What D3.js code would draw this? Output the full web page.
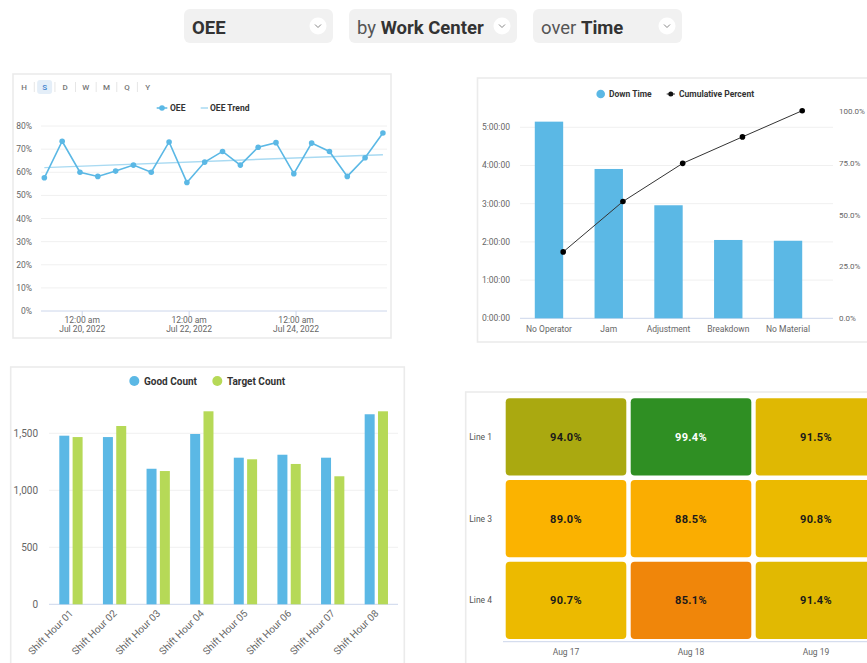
<!DOCTYPE html>
<html>
<head>
<meta charset="utf-8">
<script src="https://cdn.jsdelivr.net/npm/d3@7/dist/d3.min.js"></script>
<style>
  html, body { margin: 0; padding: 0; background: #ffffff; }
  svg { display: block; font-family: Roboto, "Noto Sans", sans-serif; }
</style>
</head>
<body>
<svg id="dash" width="867" height="663"></svg>
<script>
// ---- Selector bar ----
const selectorPrefixes = ["", "by ", "over "];
const selectorValues = ["OEE", "Work Center", "Time"];

// ---- OEE over time ----
const periodButtons = ["H", "S", "D", "W", "M", "Q", "Y"];
const activePeriod = "S";
const oeeTimes = [
  "2022-07-19T07:00", "2022-07-19T15:00", "2022-07-19T23:00",
  "2022-07-20T07:00", "2022-07-20T15:00", "2022-07-20T23:00",
  "2022-07-21T07:00", "2022-07-21T15:00", "2022-07-21T23:00",
  "2022-07-22T07:00", "2022-07-22T15:00", "2022-07-22T23:00",
  "2022-07-23T07:00", "2022-07-23T15:00", "2022-07-23T23:00",
  "2022-07-24T07:00", "2022-07-24T15:00", "2022-07-24T23:00",
  "2022-07-25T07:00", "2022-07-25T15:00"
];
const oeeValues = [57.6, 73.4, 60.0, 58.2, 60.5, 63.1, 60.0, 73.1, 55.6, 64.4,
                   69.0, 63.1, 70.8, 72.8, 59.4, 72.6, 69.0, 58.2, 66.3, 77.0];
const oeeTrendEnds = [62.0, 67.6];
const oeeDomain = ["2022-07-19T05:30", "2022-07-25T16:50"];
const oeeTickDates = ["2022-07-20T00:00", "2022-07-22T00:00", "2022-07-24T00:00"];
const oeeYTicks = [0, 10, 20, 30, 40, 50, 60, 70, 80];

// ---- Down time pareto ----
const downCauses = ["No Operator", "Jam", "Adjustment", "Breakdown", "No Material"];
const downTimeMinutes = [308.8, 234.5, 177.5, 123.0, 121.8];
const downTicksMinutes = [0, 60, 120, 180, 240, 300];
const cumulativeTicks = [0, 25, 50, 75, 100];

// ---- Good vs target count ----
const shiftHours = ["Shift Hour 01", "Shift Hour 02", "Shift Hour 03", "Shift Hour 04",
                    "Shift Hour 05", "Shift Hour 06", "Shift Hour 07", "Shift Hour 08"];
const goodCount = [1479, 1467, 1189, 1494, 1286, 1312, 1286, 1667];
const targetCount = [1467, 1564, 1169, 1693, 1272, 1231, 1123, 1693];
const countTicks = [0, 500, 1000, 1500];

// ---- OEE heatmap by line and day ----
const lineNames = ["Line 1", "Line 3", "Line 4"];
const dayNames = ["Aug 17", "Aug 18", "Aug 19"];
const oeeLine1 = [94.0, 99.4, 91.5];
const oeeLine3 = [89.0, 88.5, 90.8];
const oeeLine4 = [90.7, 85.1, 91.4];

const BLUE = "#5bb8e5";
const GREEN = "#b6d957";
const AXIS = "#ccd6eb";
const GRID = "#f0f0f0";
const LABEL = "#666666";

const svg = d3.select("#dash");

// ================= selector bar =================
const selBoxes = [[184, 149], [349, 168], [533, 149]];
selBoxes.forEach(([x, w], i) => {
  const g = svg.append("g").attr("transform", `translate(${x},9)`);
  g.append("rect").attr("width", w).attr("height", 34).attr("rx", 6).attr("fill", "#f1f1f1");
  const t = g.append("text").attr("x", 8).attr("y", 25).attr("font-size", 18.5);
  if (selectorPrefixes[i]) t.append("tspan").attr("fill", "#555").attr("font-weight", 400).text(selectorPrefixes[i]);
  t.append("tspan").attr("fill", "#333").attr("font-weight", 700).text(selectorValues[i]);
  const cx = w - 15;
  g.append("circle").attr("cx", cx).attr("cy", 17).attr("r", 8.5).attr("fill", "#ffffff");
  g.append("path").attr("d", `M${cx - 3},${15.5} L${cx},${18.5} L${cx + 3},${15.5}`)
    .attr("fill", "none").attr("stroke", "#888").attr("stroke-width", 1);
});

// ================= panels =================
const panels = [[13, 74, 378, 264], [477.5, 78, 400, 264], [10.7, 367, 393.6, 310], [465.7, 392, 410, 300]];
panels.forEach(([x, y, w, h]) => {
  svg.append("rect").attr("x", x).attr("y", y).attr("width", w).attr("height", h)
    .attr("fill", "#fff").attr("stroke", "#ebebeb").attr("stroke-width", 1.6);
});

// ================= OEE over time =================
{
  const g = svg.append("g");
  // period buttons
  const btnX = d3.scalePoint().domain(periodButtons).range([24, 147.7]);
  periodButtons.forEach((p, i) => {
    const x = btnX(p);
    if (p === activePeriod) {
      g.append("rect").attr("x", x - 7.5).attr("y", 80).attr("width", 15).attr("height", 14)
        .attr("rx", 3).attr("fill", "#e4eef8");
    }
    g.append("text").attr("x", x).attr("y", 90).attr("text-anchor", "middle")
      .attr("font-size", 8).attr("font-weight", 500)
      .attr("fill", p === activePeriod ? "#3b7fcf" : "#777").text(p);
    if (i < periodButtons.length - 1) {
      const sx = (x + btnX(periodButtons[i + 1])) / 2;
      g.append("line").attr("x1", sx).attr("x2", sx).attr("y1", 82).attr("y2", 92)
        .attr("stroke", "#e6e6e6").attr("stroke-width", 1);
    }
  });

  // legend
  g.append("line").attr("x1", 156.7).attr("x2", 167.3).attr("y1", 108).attr("y2", 108)
    .attr("stroke", BLUE).attr("stroke-width", 1.5);
  g.append("circle").attr("cx", 162).attr("cy", 108).attr("r", 2.8).attr("fill", BLUE);
  g.append("text").attr("x", 170).attr("y", 111).attr("font-size", 8.5).attr("font-weight", 700)
    .attr("fill", "#333").text("OEE");
  g.append("line").attr("x1", 200.7).attr("x2", 208).attr("y1", 108).attr("y2", 108)
    .attr("stroke", "#a9daf2").attr("stroke-width", 1.5);
  g.append("text").attr("x", 210).attr("y", 111).attr("font-size", 8.5).attr("font-weight", 700)
    .attr("fill", "#333").text("OEE Trend");

  const parse = d3.timeParse("%Y-%m-%dT%H:%M");
  const x = d3.scaleTime().domain(oeeDomain.map(parse)).range([41, 387]);
  const y = d3.scaleLinear().domain([0, 80]).range([311, 126]);

  // grid + y labels
  oeeYTicks.forEach(t => {
    g.append("line").attr("x1", 41).attr("x2", 387).attr("y1", y(t)).attr("y2", y(t))
      .attr("stroke", t === 0 ? AXIS : GRID).attr("stroke-width", 1);
    g.append("text").attr("x", 32).attr("y", y(t) + 3).attr("text-anchor", "end")
      .attr("font-size", 8.5).attr("fill", LABEL).text(t + "%");
  });
  // x ticks
  const fTime = d3.timeFormat("%-I:%M %p");
  const fDate = d3.timeFormat("%b %-d, %Y");
  oeeTickDates.map(parse).forEach(d => {
    const xx = x(d);
    g.append("line").attr("x1", xx).attr("x2", xx).attr("y1", 311).attr("y2", 316)
      .attr("stroke", AXIS);
    g.append("text").attr("x", xx).attr("y", 322.5).attr("text-anchor", "middle")
      .attr("font-size", 8.5).attr("fill", LABEL).text(fTime(d).toLowerCase());
    g.append("text").attr("x", xx).attr("y", 331.5).attr("text-anchor", "middle")
      .attr("font-size", 8.5).attr("fill", LABEL).text(fDate(d));
  });

  const times = oeeTimes.map(parse);
  // trend
  g.append("line")
    .attr("x1", x(times[0])).attr("x2", x(times[times.length - 1]))
    .attr("y1", y(oeeTrendEnds[0])).attr("y2", y(oeeTrendEnds[1]))
    .attr("stroke", "#a9daf2").attr("stroke-width", 1.5);
  // series
  const line = d3.line().x((d, i) => x(times[i])).y(d => y(d));
  g.append("path").datum(oeeValues).attr("d", line).attr("fill", "none")
    .attr("stroke", BLUE).attr("stroke-width", 1.6);
  g.selectAll(".oeept").data(oeeValues).join("circle")
    .attr("cx", (d, i) => x(times[i])).attr("cy", d => y(d)).attr("r", 2.8).attr("fill", BLUE);
}

// ================= Down time pareto =================
{
  const g = svg.append("g");
  // legend
  g.append("circle").attr("cx", 600.7).attr("cy", 94).attr("r", 4.3).attr("fill", BLUE);
  g.append("text").attr("x", 609).attr("y", 97).attr("font-size", 8.5).attr("font-weight", 700)
    .attr("fill", "#333").text("Down Time");
  g.append("line").attr("x1", 666.7).attr("x2", 675).attr("y1", 94).attr("y2", 94)
    .attr("stroke", "#333").attr("stroke-width", 1);
  g.append("circle").attr("cx", 670.8).attr("cy", 94).attr("r", 2.5).attr("fill", "#111");
  g.append("text").attr("x", 679).attr("y", 97).attr("font-size", 8.5).attr("font-weight", 700)
    .attr("fill", "#333").text("Cumulative Percent");

  const yL = d3.scaleLinear().domain([0, 326]).range([318.3, 110.7]);
  const yR = d3.scaleLinear().domain([0, 100]).range([318.3, 110.7]);
  const x = d3.scaleBand().domain(downCauses).range([519.1, 817.9])
    .paddingInner(0.525).paddingOuter(0.2625);

  const fmtDur = m => {
    const s = Math.round(m * 60);
    return `${Math.floor(s / 3600)}:${String(Math.floor(s % 3600 / 60)).padStart(2, "0")}:${String(s % 60).padStart(2, "0")}`;
  };
  downTicksMinutes.forEach(t => {
    g.append("line").attr("x1", 520).attr("x2", 833).attr("y1", yL(t)).attr("y2", yL(t))
      .attr("stroke", t === 0 ? AXIS : GRID);
    g.append("text").attr("x", 510).attr("y", yL(t) + 3).attr("text-anchor", "end")
      .attr("font-size", 8.5).attr("fill", LABEL).text(fmtDur(t));
  });
  cumulativeTicks.forEach(t => {
    g.append("text").attr("x", 839).attr("y", yR(t) + 3).attr("text-anchor", "start")
      .attr("font-size", 8).attr("fill", LABEL).text(t.toFixed(1) + "%");
  });

  g.selectAll(".dbar").data(downTimeMinutes).join("rect")
    .attr("x", (d, i) => x(downCauses[i])).attr("width", x.bandwidth())
    .attr("y", d => yL(d)).attr("height", d => yL(0) - yL(d)).attr("fill", BLUE);

  downCauses.forEach(c => {
    g.append("text").attr("x", x(c) + x.bandwidth() / 2).attr("y", 331.5)
      .attr("text-anchor", "middle").attr("font-size", 8.5).attr("fill", LABEL).text(c);
  });

  const total = d3.sum(downTimeMinutes);
  const cum = d3.cumsum(downTimeMinutes).map(v => v / total * 100);
  const lx = i => x(downCauses[i]) + x.bandwidth();
  g.append("path").datum(cum)
    .attr("d", d3.line().x((d, i) => lx(i)).y(d => yR(d)))
    .attr("fill", "none").attr("stroke", "#333").attr("stroke-width", 1);
  g.selectAll(".cpt").data(cum).join("circle")
    .attr("cx", (d, i) => lx(i)).attr("cy", d => yR(d)).attr("r", 2.8).attr("fill", "#000");
}

// ================= Good vs Target count =================
{
  const g = svg.append("g");
  g.append("circle").attr("cx", 134.3).attr("cy", 381).attr("r", 5).attr("fill", BLUE);
  g.append("text").attr("x", 144).attr("y", 384.6).attr("font-size", 10).attr("font-weight", 700)
    .attr("fill", "#333").text("Good Count");
  g.append("circle").attr("cx", 217.3).attr("cy", 381).attr("r", 5).attr("fill", GREEN);
  g.append("text").attr("x", 227).attr("y", 384.6).attr("font-size", 10).attr("font-weight", 700)
    .attr("fill", "#333").text("Target Count");

  const y = d3.scaleLinear().domain([0, 1800]).range([604.3, 399.1]);
  const x0 = d3.scaleBand().domain(shiftHours).range([49, 398]);
  const keys = ["good", "target"];
  const x1 = d3.scaleBand().domain(keys).range([10.3, 33.6]).paddingInner(0.25);
  const colors = { good: BLUE, target: GREEN };
  const series = { good: goodCount, target: targetCount };

  countTicks.forEach(t => {
    g.append("line").attr("x1", 49).attr("x2", 398).attr("y1", y(t)).attr("y2", y(t))
      .attr("stroke", t === 0 ? AXIS : GRID);
    g.append("text").attr("x", 38).attr("y", y(t) + 3.5).attr("text-anchor", "end")
      .attr("font-size", 10).attr("fill", LABEL).text(d3.format(",")(t));
  });

  keys.forEach(k => {
    g.selectAll(".b" + k).data(series[k]).join("rect")
      .attr("x", (d, i) => x0(shiftHours[i]) + x1(k)).attr("width", x1.bandwidth())
      .attr("y", d => y(d)).attr("height", d => y(0) - y(d)).attr("fill", colors[k]);
  });

  shiftHours.forEach(s => {
    const cx = x0(s) + x0.bandwidth() / 2 + 3;
    g.append("text").attr("transform", `translate(${cx},614) rotate(-45)`)
      .attr("text-anchor", "end").attr("font-size", 10).attr("fill", LABEL).text(s);
  });
}

// ================= OEE heatmap =================
{
  const g = svg.append("g");
  const rows = [oeeLine1, oeeLine3, oeeLine4];
  const x = d3.scaleBand().domain(dayNames).range([503.5, 878.5]);
  const y = d3.scaleBand().domain(lineNames).range([396.1, 641.2]);
  const color = d3.scaleLinear()
    .domain([85, 89, 91, 94, 99.4])
    .range(["#f0850a", "#fbb300", "#e9bb00", "#aaa910", "#2f8f23"])
    .clamp(true);
  const inset = 2.2;

  rows.forEach((vals, r) => {
    vals.forEach((v, c) => {
      const cx = x(dayNames[c]), cy = y(lineNames[r]);
      const fill = color(v);
      g.append("rect").attr("x", cx + inset).attr("y", cy + inset)
        .attr("width", x.bandwidth() - 2 * inset).attr("height", y.bandwidth() - 2 * inset)
        .attr("rx", 4).attr("fill", fill);
      const lum = d3.lab(fill).l;
      g.append("text").attr("x", cx + x.bandwidth() / 2).attr("y", cy + y.bandwidth() / 2 + 4)
        .attr("text-anchor", "middle").attr("font-size", 11).attr("font-weight", 700)
        .attr("letter-spacing", 0.3)
        .attr("fill", lum < 60 ? "#ffffff" : "#1a1a1a").text(v.toFixed(1) + "%");
    });
  });

  g.append("line").attr("x1", 503).attr("x2", 867).attr("y1", 641.7).attr("y2", 641.7)
    .attr("stroke", AXIS);
  lineNames.forEach(n => {
    g.append("text").attr("x", 492).attr("y", y(n) + y.bandwidth() / 2 + 3)
      .attr("text-anchor", "end").attr("font-size", 8.5).attr("fill", "#555").text(n);
  });
  dayNames.forEach(d => {
    g.append("text").attr("x", x(d) + x.bandwidth() / 2).attr("y", 655)
      .attr("text-anchor", "middle").attr("font-size", 8.5).attr("fill", LABEL).text(d);
  });
}
</script>
</body>
</html>
